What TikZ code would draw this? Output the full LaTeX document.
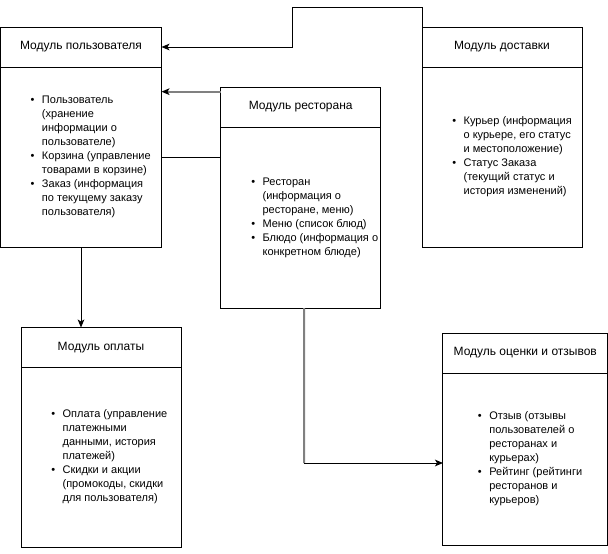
\documentclass[tikz,border=0pt]{standalone}
\usepackage{fontspec}
\setmainfont{Liberation Sans}
\usetikzlibrary{positioning, arrows.meta}

\newcommand{\bul}{\makebox[8.5pt][l]{\textbullet}}
\newcommand{\ind}{\hspace*{8.5pt}}

\tikzset{
  hdr/.style={draw, line width=0.75pt, inner sep=0pt, outer sep=0pt, minimum height=30pt, font=\fontsize{9pt}{10.5pt}\selectfont},
  bdy/.style={draw, line width=0.75pt, inner sep=0pt, outer sep=0pt, minimum height=135pt},
  lst/.style={anchor=west, align=left, inner sep=0pt, font=\fontsize{8.25pt}{10.5pt}\selectfont},
  arr/.style={line width=0.75pt, -{Stealth[length=6pt,width=5pt,inset=1.5pt,color=black]}},
  gry/.style={line width=1.5pt, draw=black!50},
}

\begin{document}
\begin{tikzpicture}[x=0.75pt,y=-0.75pt]
  \useasboundingbox (0,0) rectangle (608,554);
  \node[hdr, minimum width=120.75pt] (usr) at (81,47) {Модуль пользователя};
  \node[bdy, minimum width=120.75pt, below=0pt of usr] (usrB) {};
  \node[hdr, minimum width=120pt] (rst) at (300.7,107) {Модуль ресторана};
  \node[bdy, minimum width=120pt, minimum height=135.75pt, below=0pt of rst] (rstB) {};
  \node[hdr, minimum width=120pt] (dlv) at (502,47) {Модуль доставки};
  \node[bdy, minimum width=120pt, below=0pt of dlv] (dlvB) {};
  \node[hdr, minimum width=120pt] (pay) at (101,347.5) {Модуль оплаты};
  \node[bdy, minimum width=120pt, below=0pt of pay] (payB) {};
  \node[hdr, minimum width=123.4pt] (rev) at (525.25,353) {Модуль оценки и отзывов};
  \node[bdy, minimum width=123.4pt, minimum height=129pt, below=0pt of rev] (revB) {};

  \node[lst] (usrL) at (30.4,157) {\bul Пользователь\\ \ind(хранение\\ \ind информации о\\ \ind пользователе)\\
    \bul Корзина (управление\\ \ind товарами в корзине)\\ \bul Заказ (информация\\ \ind по текущему заказу\\ \ind пользователя)};
  \node[lst] (rstL) at (251,217.5) {\bul Ресторан\\ \ind(информация о\\ \ind ресторане, меню)\\
    \bul Меню (список блюд)\\ \bul Блюдо (информация о\\ \ind конкретном блюде)};
  \node[lst] (dlvL) at (452,157) {\bul Курьер (информация\\ \ind о курьере, его статус\\ \ind и местоположение)\\
    \bul Статус Заказа\\ \ind(текущий статус и\\ \ind история изменений)};
  \node[lst] (payL) at (51,457) {\bul Оплата (управление\\ \ind платежными\\ \ind данными, история\\ \ind платежей)\\
    \bul Скидки и акции\\ \ind(промокоды, скидки\\ \ind для пользователя)};
  \node[lst] (revL) at (477.7,459) {\bul Отзыв (отзывы\\ \ind пользователей о\\ \ind ресторанах и\\ \ind курьерах)\\
    \bul Рейтинг (рейтинги\\ \ind ресторанов и\\ \ind курьеров)};

  \coordinate (k1) at (292,7.5);
  \draw[arr] (dlv.north west) |- (k1) |- (usr.east);
  \coordinate (r1) at ([yshift=-3.5pt]rst.north west);
  \draw[arr, gry] (r1) -- (r1 -| usr.east);
  \draw[line width=0.75pt] (usrB.east) -- (usrB.east -| rstB.west);
  \draw[arr] (usrB.south) -- (usrB.south |- pay.north);
  \coordinate (k2) at (304,463);
  \draw[gry] ([xshift=2.5pt]rstB.south) -- (k2);
  \draw[arr] (k2) -- (k2 -| revB.west);
\end{tikzpicture}
\end{document}
